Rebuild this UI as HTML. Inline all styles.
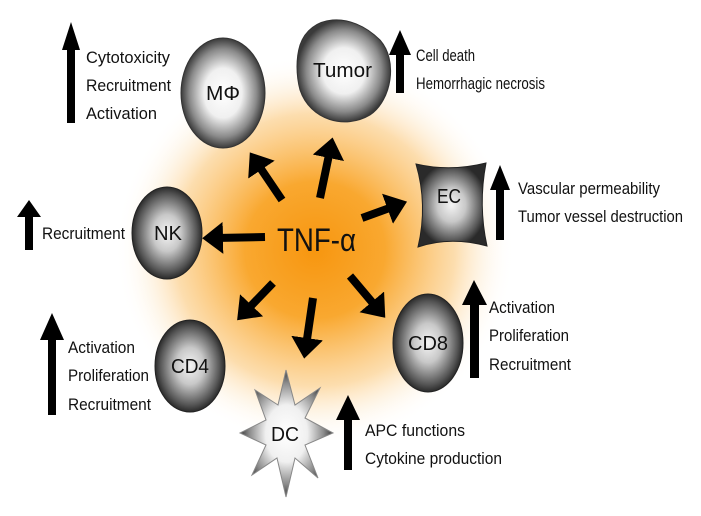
<!DOCTYPE html>
<html><head><meta charset="utf-8"><style>
html,body{margin:0;padding:0;background:#fff;}
svg{display:block;}
text{font-family:"Liberation Sans",sans-serif;fill:#111;}
.t{font-size:17px;}
.c{font-size:20px;}
</style></head><body>
<svg width="701" height="516" viewBox="0 0 701 516">
<defs>
<radialGradient id="glow" cx="50%" cy="50%" r="50%">
<stop offset="0" stop-color="#f7960f"/>
<stop offset="0.35" stop-color="#f9a830"/>
<stop offset="0.7" stop-color="#fcd59a" stop-opacity="0.8"/>
<stop offset="1" stop-color="#fff" stop-opacity="0"/>
</radialGradient>
<radialGradient id="cell" cx="50%" cy="50%" r="50%">
<stop offset="0" stop-color="#fff"/>
<stop offset="0.45" stop-color="#f0f0f0"/>
<stop offset="0.8" stop-color="#8a8a8a"/>
<stop offset="1" stop-color="#3a3a3a"/>
</radialGradient>
<radialGradient id="cellD" cx="50%" cy="50%" r="50%">
<stop offset="0" stop-color="#f4f4f4"/>
<stop offset="0.4" stop-color="#c8c8c8"/>
<stop offset="0.85" stop-color="#555"/>
<stop offset="1" stop-color="#2a2a2a"/>
</radialGradient>
<marker id="ah" markerWidth="4" markerHeight="4" refX="1" refY="2" orient="auto" markerUnits="strokeWidth">
<path d="M0,0 L2.6,2 L0,4 z" fill="#000"/>
</marker>
</defs>
<ellipse cx="315" cy="250" rx="200" ry="195" fill="url(#glow)"/>

<ellipse cx="223" cy="93" rx="42" ry="55" fill="url(#cell)" stroke="#333" stroke-width="1"/>
<path d="M300,45 C310,15 350,10 380,40 C398,60 392,100 370,115 C345,130 310,120 300,90 C296,75 296,58 300,45 z" fill="url(#cell)" stroke="#333"/>
<ellipse cx="167" cy="233" rx="35" ry="46" fill="url(#cellD)" stroke="#222"/>
<path d="M416,164 Q450,172 486,163 Q478,205 487,246 Q450,236 418,247 Q428,205 416,164 z" fill="url(#cellD)" stroke="#222"/>
<ellipse cx="428" cy="343" rx="35" ry="49" fill="url(#cellD)" stroke="#222"/>
<ellipse cx="190" cy="366" rx="35" ry="46" fill="url(#cellD)" stroke="#222"/>
<path d="M286,370 L295,405 L320,388 L305,418 L333,433 L305,445 L318,478 L295,458 L286,497 L277,458 L252,475 L266,445 L240,433 L266,420 L255,390 L278,405 z" fill="url(#cell)" stroke="#888"/>

<g stroke="#000" stroke-width="8" marker-end="url(#ah)">
<line x1="282" y1="200" x2="257" y2="163"/>
<line x1="320" y1="198" x2="330" y2="150"/>
<line x1="362" y1="218" x2="395" y2="206"/>
<line x1="265" y1="237" x2="215" y2="238"/>
<line x1="273" y1="283" x2="246" y2="311"/>
<line x1="313" y1="298" x2="306" y2="346"/>
<line x1="350" y1="276" x2="377" y2="308"/>
</g>

<g fill="#000">
<path d="M62,50 L71,22 L80,50 L75,50 L75,123 L67,123 L67,50 z"/>
<path d="M389,55 L400,30 L411,55 L404,55 L404,93 L396,93 L396,55 z"/>
<path d="M17,217 L29,200 L41,217 L33,217 L33,250 L25,250 L25,217 z"/>
<path d="M490,190 L500,165 L510,190 L504,190 L504,240 L496,240 L496,190 z"/>
<path d="M462,305 L474,280 L487,305 L479,305 L479,378 L470,378 L470,305 z"/>
<path d="M40,340 L52,313 L64,340 L56,340 L56,415 L48,415 L48,340 z"/>
<path d="M336,420 L348,395 L360,420 L352,420 L352,470 L344,470 L344,420 z"/>
</g>

<text class="c" x="206" y="100" textLength="34" lengthAdjust="spacingAndGlyphs">MΦ</text>
<text class="c" x="313" y="77" textLength="59" lengthAdjust="spacingAndGlyphs">Tumor</text>
<text class="c" x="154" y="240" textLength="28" lengthAdjust="spacingAndGlyphs">NK</text>
<text class="c" x="437" y="203" textLength="24" lengthAdjust="spacingAndGlyphs">EC</text>
<text class="c" x="408" y="350" textLength="40" lengthAdjust="spacingAndGlyphs">CD8</text>
<text class="c" x="171" y="373" textLength="38" lengthAdjust="spacingAndGlyphs">CD4</text>
<text class="c" x="271" y="441" textLength="28" lengthAdjust="spacingAndGlyphs">DC</text>
<text x="277" y="251" style="font-size:32px" textLength="79" lengthAdjust="spacingAndGlyphs">TNF-α</text>

<text class="t" x="86" y="63" textLength="84" lengthAdjust="spacingAndGlyphs">Cytotoxicity</text>
<text class="t" x="86" y="91" textLength="85" lengthAdjust="spacingAndGlyphs">Recruitment</text>
<text class="t" x="86" y="119" textLength="71" lengthAdjust="spacingAndGlyphs">Activation</text>
<text class="t" x="416" y="61" textLength="59" lengthAdjust="spacingAndGlyphs">Cell death</text>
<text class="t" x="416" y="89" textLength="129" lengthAdjust="spacingAndGlyphs">Hemorrhagic necrosis</text>
<text class="t" x="42" y="239" textLength="83" lengthAdjust="spacingAndGlyphs">Recruitment</text>
<text class="t" x="518" y="194" textLength="142" lengthAdjust="spacingAndGlyphs">Vascular permeability</text>
<text class="t" x="518" y="222" textLength="165" lengthAdjust="spacingAndGlyphs">Tumor vessel destruction</text>
<text class="t" x="489" y="313" textLength="66" lengthAdjust="spacingAndGlyphs">Activation</text>
<text class="t" x="489" y="341" textLength="80" lengthAdjust="spacingAndGlyphs">Proliferation</text>
<text class="t" x="489" y="370" textLength="82" lengthAdjust="spacingAndGlyphs">Recruitment</text>
<text class="t" x="68" y="353" textLength="67" lengthAdjust="spacingAndGlyphs">Activation</text>
<text class="t" x="68" y="381" textLength="81" lengthAdjust="spacingAndGlyphs">Proliferation</text>
<text class="t" x="68" y="410" textLength="83" lengthAdjust="spacingAndGlyphs">Recruitment</text>
<text class="t" x="365" y="436" textLength="100" lengthAdjust="spacingAndGlyphs">APC functions</text>
<text class="t" x="365" y="464" textLength="137" lengthAdjust="spacingAndGlyphs">Cytokine production</text>
</svg>
</body></html>
